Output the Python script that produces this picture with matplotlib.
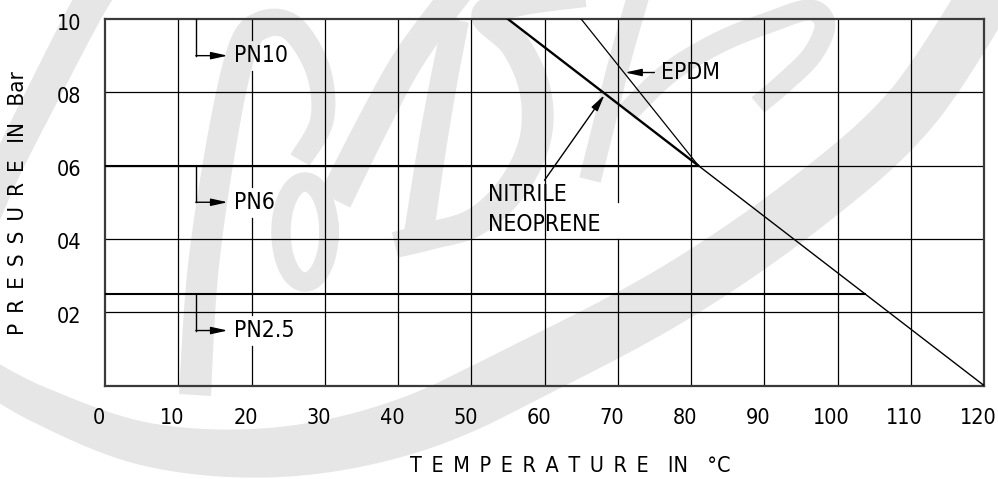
import numpy as np
import matplotlib
matplotlib.use("Agg")
import matplotlib.pyplot as plt
import matplotlib.font_manager as fm
from matplotlib.transforms import ScaledTranslation

# narrow lettering, like the technical drawing font of the original
names = {f.name for f in fm.fontManager.ttflist}
FONT = 'Liberation Sans Narrow' if 'Liberation Sans Narrow' in names else 'DejaVu Sans'
plt.rcParams['font.family'] = [FONT, 'DejaVu Sans']
plt.rcParams['font.stretch'] = 'condensed'

# ---- data ----
temps = list(range(0, 121, 10))
temp_labels = [str(t) for t in temps]
pressures = [2, 4, 6, 8, 10]
pressure_labels = ['02', '04', '06', '08', '10']

# nitrile / neoprene limit line and EPDM limit line (temperature, pressure)
nitrile_temp = [55, 81, 120]
nitrile_press = [10, 6, 0]
epdm_temp = [65, 81]
epdm_press = [10, 6]

# PN pressure classes, horizontal limit up to the nitrile line
pn_levels = [10, 6, 2.5]
pn_names = ['PN10', 'PN6', 'PN2.5']
pn_end_temp = [55, 81, 103.75]

W, H = 998, 479
fig = plt.figure(figsize=(W / 100, H / 100), dpi=100)

# ---- faint BDK watermark in the background ----
bg = fig.add_axes([0, 0, 1, 1], zorder=0)
bg.set_xlim(0, W)
bg.set_ylim(H, 0)
bg.axis('off')
wm = '#e6e6e6'


def smooth(pts, n=24):
    p = np.array(pts, float)
    p = np.vstack([p[0], p, p[-1]])
    out = []
    t = np.linspace(0, 1, n, endpoint=False)[:, None]
    for i in range(1, len(p) - 2):
        p0, p1, p2, p3 = p[i - 1], p[i], p[i + 1], p[i + 2]
        out.append(0.5 * (2 * p1 + (-p0 + p2) * t + (2 * p0 - 5 * p1 + 4 * p2 - p3) * t ** 2
                          + (-p0 + 3 * p1 - 3 * p2 + p3) * t ** 3))
    out.append(p[-2][None])
    return np.vstack(out)


def band(pts, w0, w1, wmid=None):
    c = smooth(pts)
    d = np.gradient(c, axis=0)
    d /= np.linalg.norm(d, axis=1)[:, None] + 1e-9
    nrm = np.column_stack([-d[:, 1], d[:, 0]])
    s = np.linspace(0, 1, len(c))
    if wmid is None:
        w = w0 + (w1 - w0) * s
    else:
        w = np.interp(s, [0, 0.5, 1], [w0, wmid, w1])
    a = c + nrm * w[:, None] / 2
    b = c - nrm * w[:, None] / 2
    poly = np.vstack([a, b[::-1]])
    bg.fill(poly[:, 0], poly[:, 1], color=wm, lw=0)


# big swoosh
band([(-30, 365), (40, 405), (150, 445), (280, 452), (410, 425), (540, 365),
      (680, 290), (810, 200), (910, 110), (990, -10)], 30, 55, 60)
# left flourish
band([(120, -40), (92, 0), (45, 90), (5, 170), (-25, 240)], 36, 30)
# B stem and bowls
band([(195, 395), (203, 270), (222, 140), (242, 50), (262, 25), (292, 28),
      (318, 70), (322, 120), (300, 160)], 32, 22, 28)
th = np.linspace(0, 2 * np.pi, 80)
bg.plot(305 + 24 * np.cos(th), 232 + 50 * np.sin(th), color=wm, lw=14)
# D
band([(335, 200), (370, 130), (405, 65), (440, 15), (460, -10)], 34, 28)
band([(418, 240), (430, 160), (443, 85), (456, 20)], 30, 26)
band([(395, 245), (430, 236), (475, 222), (512, 188), (535, 140), (535, 90),
      (515, 45), (485, 15), (520, 3), (585, -5)], 26, 24, 32)
# K
band([(590, 180), (605, 120), (620, 60), (640, -10)], 22, 22)
band([(628, 112), (670, 72), (720, 42), (770, 22), (810, 10), (825, 25), (812, 55),
      (785, 82), (758, 105)], 22, 20)

# ---- main chart ----
left, right, top, bottom = 105, 984, 19, 385.5
ax = fig.add_axes([left / W, (H - bottom) / H, (right - left) / W, (bottom - top) / H], zorder=2)
ax.set_facecolor('none')
ax.set_xlim(0, 120)
ax.set_ylim(0, 10)
for sp in ax.spines.values():
    sp.set_linewidth(1.6)
    sp.set_color('#3a3a3a')

ax.set_xticks(temps)
ax.set_xticklabels(temp_labels)
ax.set_yticks(pressures)
ax.set_yticklabels(pressure_labels)
ax.tick_params(length=0, labelsize=15.5)
ax.tick_params(axis='x', pad=16)
ax.tick_params(axis='y', pad=17)
for lab in ax.get_xticklabels():
    lab.set_transform(lab.get_transform() + ScaledTranslation(-6 / 100, 0, fig.dpi_scale_trans))
for lab in ax.get_yticklabels():
    lab.set_transform(lab.get_transform() + ScaledTranslation(0, -2.5 / 100, fig.dpi_scale_trans))

# grid lines, broken where labels sit
pn_x, pn_tip, pn_text = 12.4, 16.75, 17.6
label_gap = 0.42
for t in temps[1:-1]:
    if t == 20:
        cuts = [lv - 1 for lv in pn_levels]
        ys = [0]
        for c in sorted(cuts):
            ys += [c - label_gap, c + label_gap]
        ys.append(10)
        for y0, y1 in zip(ys[0::2], ys[1::2]):
            ax.plot([t, t], [y0, y1], color='k', lw=0.9, zorder=1)
    elif t == 70:
        ax.plot([t, t], [0, 4], color='k', lw=0.9, zorder=1)
        ax.plot([t, t], [5, 10], color='k', lw=0.9, zorder=1)
    else:
        ax.plot([t, t], [0, 10], color='k', lw=0.9, zorder=1)
for p in pressures[:-1]:
    ax.plot([0, 120], [p, p], color='k', lw=0.9, zorder=1)

# PN class limits
for lv, end in zip(pn_levels[1:], pn_end_temp[1:]):
    ax.plot([0, end], [lv, lv], color='k', lw=1.5, zorder=3)

# material limit lines
ax.plot(nitrile_temp[:2], nitrile_press[:2], color='k', lw=1.7, zorder=3)
ax.plot(nitrile_temp[1:], nitrile_press[1:], color='k', lw=1.0, zorder=3)
ax.plot(epdm_temp, epdm_press, color='k', lw=0.9, zorder=3)

arrow = dict(arrowstyle='-|>,head_length=1.0,head_width=0.22', color='k', lw=1.0,
             shrinkA=0, shrinkB=0, mutation_scale=10)

# PN labels with bracket arrows
for lv, name in zip(pn_levels, pn_names):
    ax.plot([pn_x, pn_x], [lv, lv - 1], color='k', lw=1.0, zorder=3)
    ax.annotate('', xy=(pn_tip, lv - 1), xytext=(pn_x, lv - 1), arrowprops=arrow, zorder=3)
    ax.text(pn_text, lv - 1, name, fontsize=16.5, va='center', ha='left', zorder=4)

# EPDM label
ax.annotate('', xy=(71.0, 8.54), xytext=(75.0, 8.54), arrowprops=arrow, zorder=3)
ax.text(75.9, 8.54, 'EPDM', fontsize=16.5, va='center', ha='left', zorder=4)

# Nitrile / neoprene label
ax.annotate('', xy=(68.2, 7.93), xytext=(60.0, 5.6), arrowprops=arrow, zorder=3)
ax.text(52.3, 5.2, 'NITRILE', fontsize=16.5, va='center', ha='left', zorder=4)
ax.text(52.3, 4.38, 'NEOPRENE', fontsize=16.5, va='center', ha='left', zorder=4)

# axis titles with wide letter spacing (en spaces)
en = '\u2002'
ylab = en.join('PRESSURE') + en + ' ' + 'IN' + en + ' ' + 'Bar'
xlab = en.join('TEMPERATURE') + en * 2 + 'IN' + en * 2 + '°C'
fig.text(18 / W, 1 - 203 / H, ylab, rotation=90, fontsize=16, ha='center', va='center')
fig.text(570 / W, 1 - 466 / H, xlab, fontsize=15.5, ha='center', va='center')

fig.savefig('out.png', dpi=100)
